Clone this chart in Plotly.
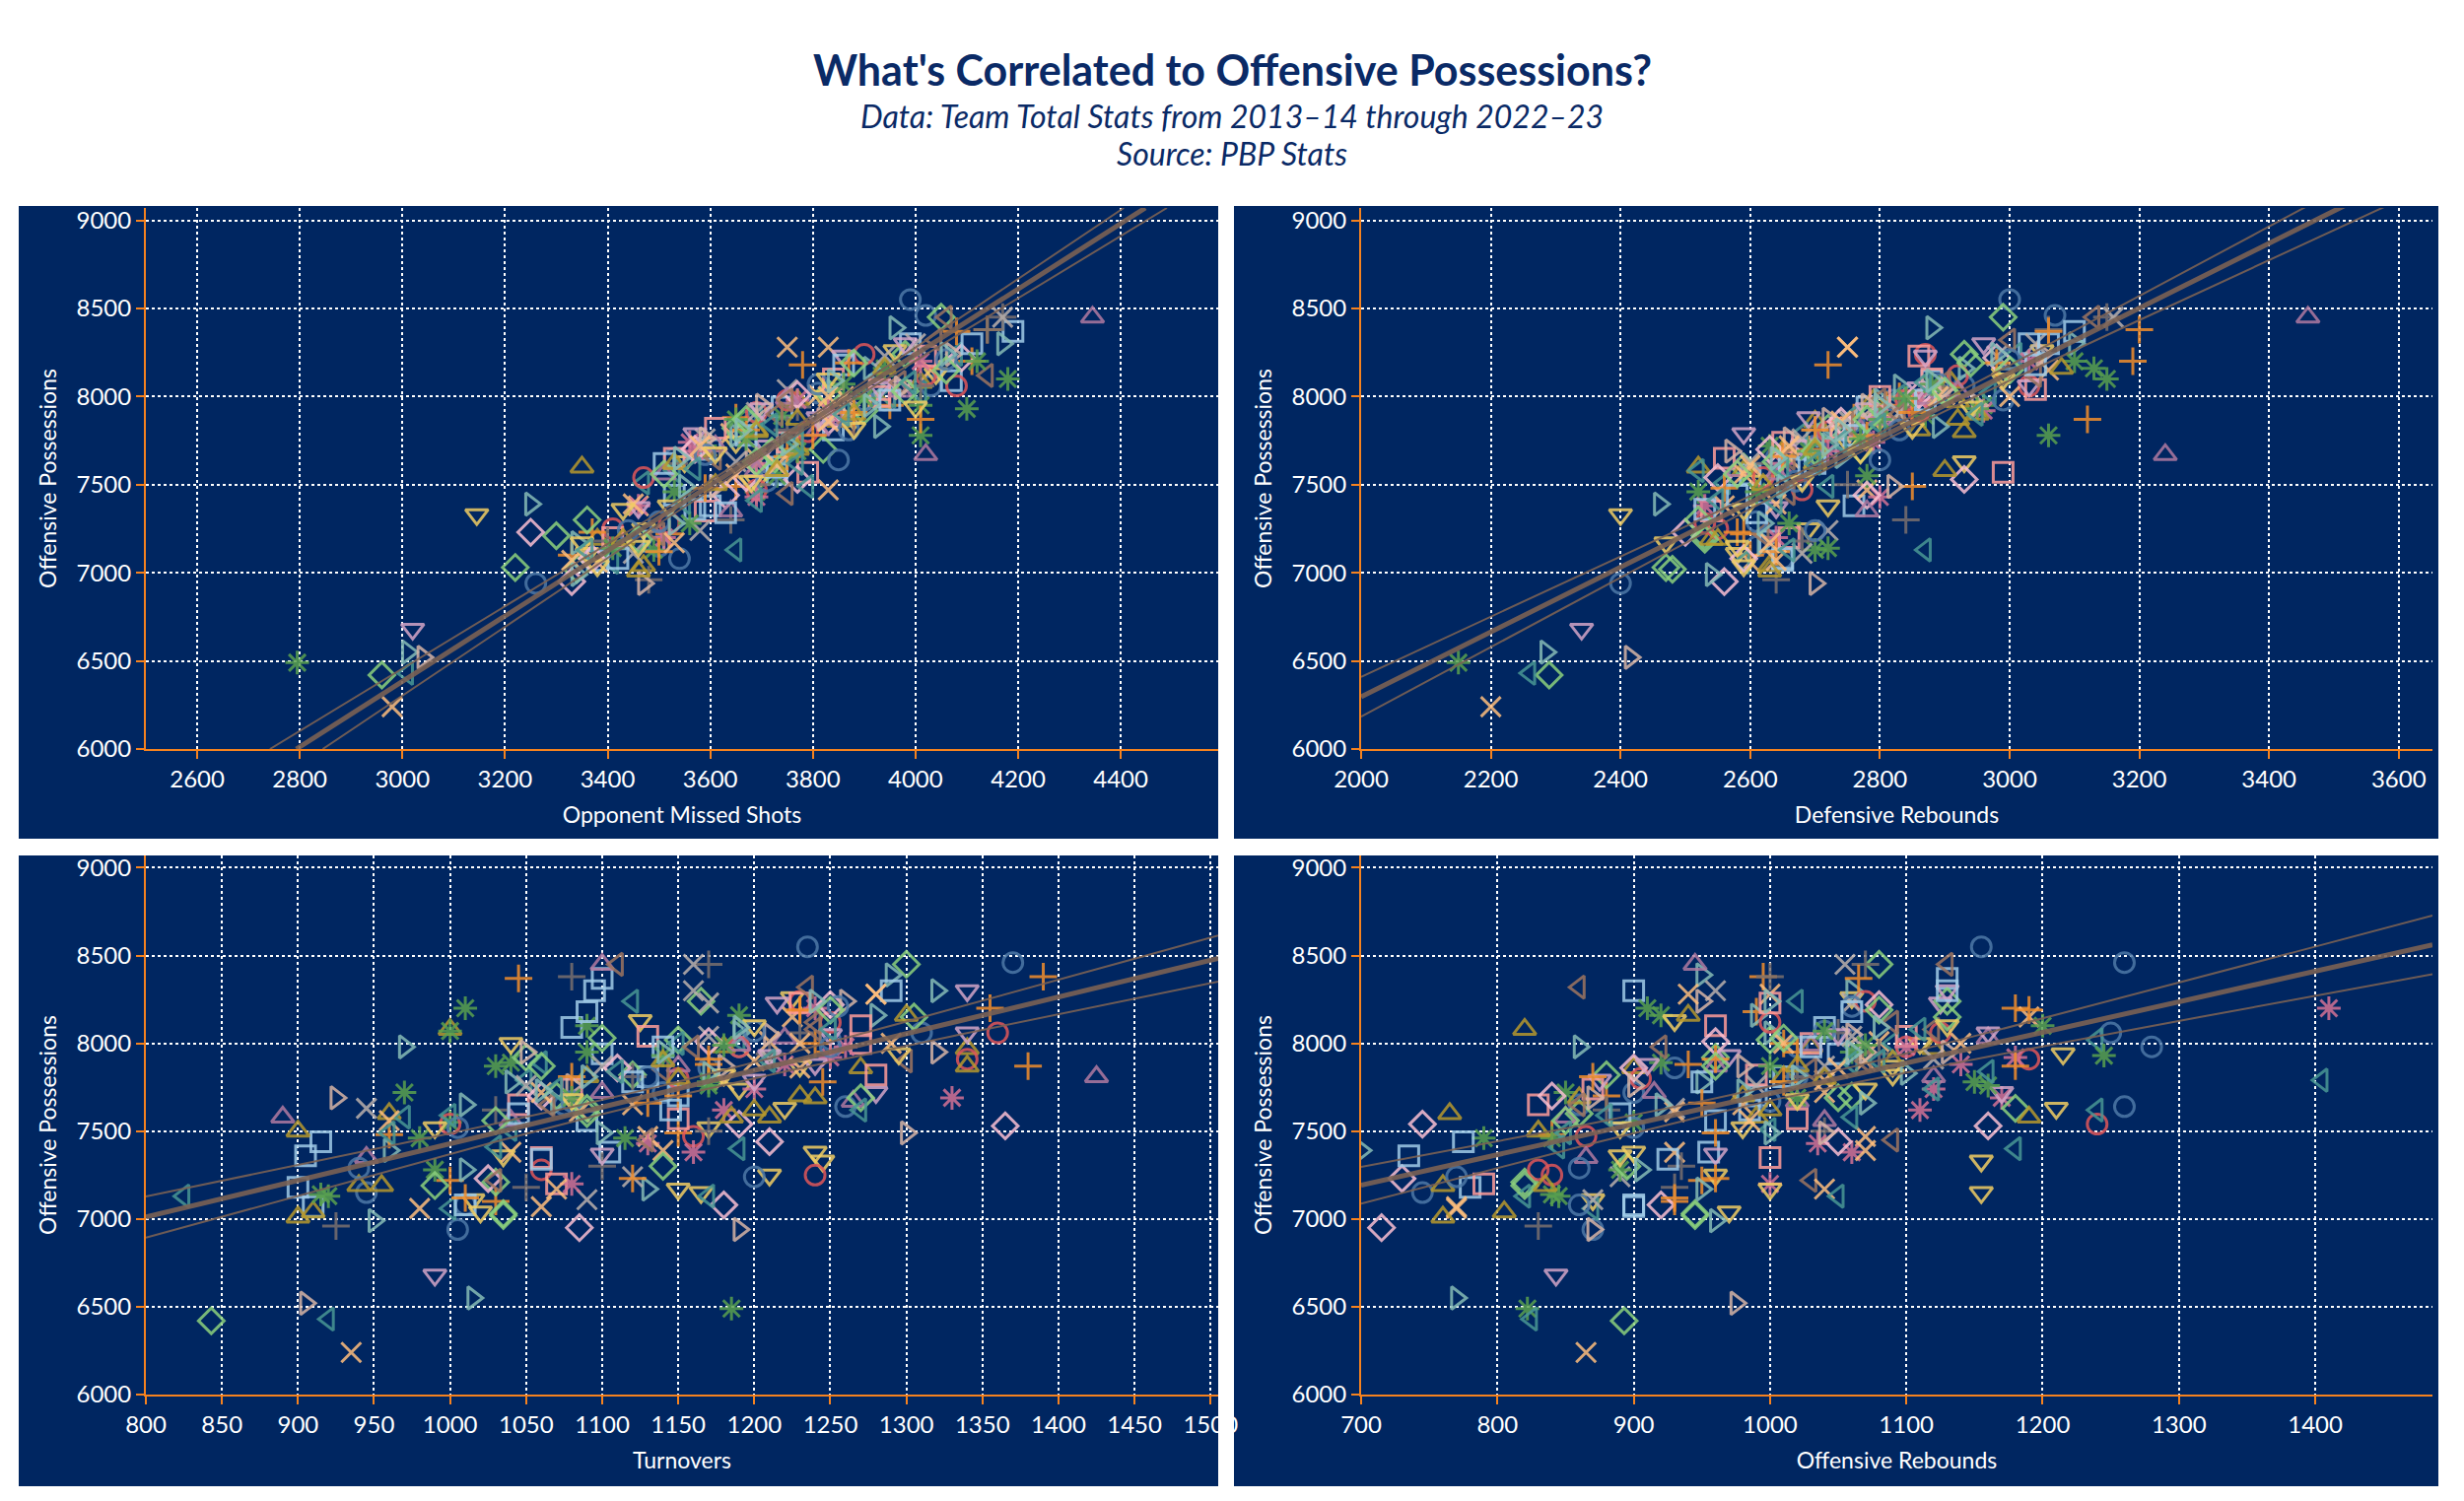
import numpy as np
import plotly.graph_objects as go
from plotly.subplots import make_subplots

# team totals per season, 2013-14 .. 2022-23
# one row = one team, ten seasons in order
teams = ['ATL', 'BOS', 'BKN', 'CHA', 'CHI', 'CLE', 'DAL', 'DEN', 'DET', 'GSW',
         'HOU', 'IND', 'LAC', 'LAL', 'MEM', 'MIA', 'MIL', 'MIN', 'NOP', 'NYK',
         'OKC', 'ORL', 'PHI', 'PHX', 'POR', 'SAC', 'SAS', 'TOR', 'UTA', 'WAS']

poss = [
    7650, 7720, 7860, 7980, 8020, 8550, 6940, 7150, 8060, 8460,
    7560, 7700, 7810, 7940, 8090, 8300, 7180, 7070, 7380, 8370,
    7700, 7880, 8000, 7950, 8180, 8380, 7100, 7220, 7490, 8200,
    7380, 7650, 7790, 7900, 8010, 8280, 6240, 7060, 7470, 8150,
    7460, 7720, 7550, 7890, 7950, 8160, 6490, 7130, 7780, 8100,
    7210, 7600, 7820, 7920, 8020, 8450, 6420, 7020, 7700, 8240,
    7600, 7580, 7690, 7860, 7980, 8080, 7040, 7190, 7810, 7970,
    7330, 7520, 7740, 7870, 8000, 8130, 7110, 7250, 7630, 8260,
    7130, 7580, 7790, 7890, 8000, 8240, 6430, 7060, 7510, 8020,
    7390, 7980, 7780, 8060, 8160, 8390, 6550, 7170, 7660, 8300,
    7250, 7540, 7800, 7980, 8120, 8240, 7280, 7470, 7910, 8060,
    7650, 7740, 7820, 8000, 8100, 8230, 7200, 7350, 7570, 8040,
    7300, 7620, 7810, 7940, 8060, 8380, 6960, 7180, 7500, 8450,
    7630, 7760, 7870, 8040, 8230, 8450, 7110, 7240, 7910, 8300,
    7380, 7620, 7740, 7880, 7980, 8200, 7200, 7430, 7690, 7920,
    7230, 7540, 7700, 7860, 8010, 8220, 6950, 7080, 7440, 7530,
    7580, 7720, 7870, 7990, 8450, 7670, 7350, 7560, 7810, 8030,
    7790, 7880, 7930, 8050, 8230, 8300, 6680, 7370, 7720, 8060,
    7650, 7850, 7980, 8080, 8320, 8450, 7220, 7450, 7900, 8120,
    7690, 7760, 7870, 7950, 8050, 8240, 6520, 6940, 7490, 7950,
    7290, 7520, 7670, 7810, 8070, 8210, 7080, 7240, 7640, 7980,
    7360, 7440, 7600, 7780, 7980, 8180, 7080, 7340, 7620, 8300,
    7480, 7660, 7810, 7910, 8190, 8370, 7120, 7230, 7780, 7870,
    7560, 7720, 7860, 8000, 8280, 7390, 7070, 7170, 7610, 8000,
    7460, 7690, 7870, 7990, 8070, 8200, 7140, 7280, 7760, 7930,
    7030, 7560, 7630, 7870, 8030, 8190, 7190, 7300, 7690, 8150,
    7500, 7620, 7700, 7800, 7900, 8160, 7010, 7190, 7580, 7870,
    7150, 7360, 7520, 7680, 7820, 8100, 7040, 7170, 7380, 7940,
    7410, 7590, 7740, 7840, 8080, 7490, 7130, 7400, 7620, 7900,
    7650, 7730, 7810, 7950, 8090, 8240, 6990, 7280, 7490, 7830,
]

opp_missed = [
    3530, 3750, 3670, 3940, 3810, 3990, 3260, 3500, 4030, 4020,
    3730, 3600, 3840, 3740, 4070, 3990, 3490, 3380, 3600, 4190,
    3770, 3650, 3910, 3950, 3780, 4140, 3330, 3520, 3650, 4110,
    3460, 3690, 3640, 3870, 3810, 3830, 2980, 3380, 3830, 4030,
    3690, 3590, 3730, 3740, 4010, 3940, 2795, 3490, 4010, 4180,
    3300, 3710, 3650, 3900, 3830, 4050, 2960, 3340, 3820, 3980,
    3350, 3730, 3590, 3850, 3770, 4010, 3470, 3380, 3690, 3930,
    3145, 3690, 3650, 3880, 3820, 4040, 3360, 3470, 3550, 3960,
    3650, 3530, 3770, 3690, 3950, 4080, 3010, 3410, 3470, 4010,
    3250, 3910, 3650, 3920, 3910, 3960, 3010, 3340, 3740, 4170,
    3410, 3470, 3790, 3750, 4020, 3900, 3520, 3690, 3690, 4080,
    3530, 3750, 3610, 3930, 3840, 4020, 3410, 3590, 3790, 3930,
    3640, 3530, 3750, 3770, 4010, 4140, 3480, 3400, 3690, 4170,
    3650, 3590, 3830, 3750, 3940, 4170, 3450, 3580, 3690, 4000,
    3460, 3690, 3560, 3840, 3770, 4010, 3510, 3690, 3570, 3830,
    3250, 3670, 3570, 3830, 3770, 4090, 3330, 3370, 3630, 3770,
    3690, 3610, 3850, 3750, 4345, 4020, 3640, 3510, 3810, 3970,
    3570, 3810, 3700, 3930, 3860, 3980, 3020, 3460, 3710, 3970,
    3610, 3870, 3750, 3970, 4040, 4060, 3500, 3750, 3730, 4140,
    3680, 3590, 3820, 3700, 3970, 4070, 3040, 3470, 3610, 3870,
    3500, 3710, 3590, 3870, 3810, 4060, 3540, 3440, 3850, 3900,
    3570, 3530, 3730, 3670, 3950, 3860, 3420, 3630, 3510, 4110,
    3590, 3750, 3670, 3880, 3870, 4080, 3500, 3370, 3800, 4010,
    3650, 3580, 3830, 3830, 3750, 3450, 3330, 3530, 3730, 3860,
    3530, 3770, 3650, 3900, 3860, 4120, 3410, 3560, 3670, 4100,
    3220, 3510, 3690, 3670, 3980, 3880, 3460, 3360, 3720, 4060,
    3610, 3530, 3770, 3690, 3880, 3940, 3460, 3430, 3730, 3770,
    3460, 3430, 3680, 3610, 3880, 3830, 3380, 3350, 3520, 4000,
    3690, 3570, 3770, 3720, 3990, 3790, 3360, 3550, 3770, 3860,
    3540, 3750, 3660, 3910, 3840, 4060, 3340, 3530, 3550, 3930,
]

dreb = [
    2640, 2700, 2760, 2820, 2890, 3000, 2400, 2610, 2930, 3070,
    2600, 2680, 2740, 2780, 2880, 3030, 2630, 2650, 2760, 3100,
    2690, 2760, 2830, 2810, 2720, 3200, 2600, 2590, 2850, 3190,
    2560, 2660, 2740, 2830, 2900, 2750, 2200, 2600, 2780, 3060,
    2520, 2630, 2780, 2870, 2960, 3130, 2150, 2700, 3060, 3150,
    2530, 2590, 2720, 2790, 2900, 2990, 2290, 2480, 2770, 2930,
    2520, 2590, 2650, 2700, 2790, 2910, 2630, 2540, 2860, 2920,
    2400, 2620, 2750, 2800, 2870, 2990, 2580, 2690, 2930, 3050,
    2870, 2520, 2680, 2760, 2830, 3010, 2260, 2590, 2560, 2970,
    2460, 2800, 2710, 2830, 2930, 2880, 2285, 2620, 2740, 3100,
    2550, 2620, 2720, 2840, 2920, 2870, 2530, 2680, 2860, 3030,
    2560, 2650, 2740, 2800, 2880, 2860, 2660, 2540, 2990, 3040,
    2840, 2630, 2700, 2830, 2880, 3060, 2640, 2680, 2750, 3150,
    2600, 2680, 2750, 2880, 2980, 3160, 2680, 2720, 2830, 3040,
    2530, 2650, 2790, 2800, 2860, 3030, 2640, 2800, 2720, 2960,
    2500, 2550, 2630, 2740, 2860, 2980, 2560, 2590, 2780, 2930,
    2580, 2700, 2800, 2870, 3460, 3240, 2780, 2640, 2770, 2920,
    2590, 2690, 2780, 2860, 2870, 2960, 2340, 2640, 2680, 3030,
    2660, 2750, 2800, 2900, 3000, 3130, 2620, 2660, 2830, 3040,
    2570, 2660, 2720, 2780, 2900, 3050, 2415, 2700, 2820, 2950,
    2610, 2670, 2700, 2830, 2890, 3000, 2650, 2700, 2800, 2990,
    2530, 2580, 2660, 2760, 2870, 3040, 2650, 2610, 2700, 3060,
    2560, 2650, 2700, 2850, 2980, 3060, 2640, 2580, 2780, 3120,
    2590, 2660, 2740, 2890, 2750, 2640, 2640, 2630, 2600, 3000,
    2610, 2690, 2800, 2840, 2880, 3100, 2720, 2660, 2770, 2950,
    2470, 2580, 2640, 2780, 2900, 2940, 2530, 2520, 2700, 3000,
    2620, 2700, 2700, 2930, 2950, 3080, 2630, 2550, 2900, 2920,
    2580, 2590, 2680, 2770, 2850, 2990, 2590, 2470, 2720, 2940,
    2550, 2650, 2740, 2800, 2870, 2720, 2660, 2640, 2700, 2950,
    2640, 2720, 2740, 2800, 2880, 2980, 2540, 2620, 2650, 2890,
]

tov = [
    1075, 1140, 1170, 1190, 1250, 1235, 1005, 945, 1310, 1370,
    1090, 1150, 1130, 1100, 1080, 1095, 900, 910, 1105, 1100,
    1150, 1170, 1240, 1250, 1230, 1390, 1030, 1000, 1150, 1355,
    1040, 1120, 1180, 1200, 1210, 1280, 935, 980, 1130, 1225,
    980, 970, 1000, 1040, 1090, 1190, 1185, 920, 1170, 1090,
    1030, 1090, 1120, 1050, 1150, 1300, 843, 1035, 1070, 1165,
    960, 1210, 1240, 1270, 1180, 1000, 910, 940, 1090, 1340,
    1245, 1170, 1190, 1230, 1040, 1125, 1015, 1210, 1220, 1225,
    825, 970, 1050, 1060, 1150, 1120, 920, 1000, 1040, 1190,
    960, 970, 1040, 1190, 1280, 1290, 1015, 1130, 1070, 1320,
    1240, 1000, 1150, 1190, 1250, 1230, 1060, 1160, 1340, 1360,
    1045, 1080, 1280, 1270, 1270, 1230, 1070, 1060, 1150, 1130,
    1100, 1030, 1120, 1210, 1230, 1080, 925, 1050, 1170, 1170,
    945, 1050, 1100, 1170, 1170, 1160, 1090, 1120, 1210, 1160,
    1160, 1180, 1200, 1220, 1260, 1240, 1080, 1130, 1330, 1250,
    1025, 1190, 1060, 1110, 1170, 1250, 1085, 1180, 1210, 1365,
    890, 1100, 1150, 1190, 1100, 1265, 945, 1040, 1425, 1220,
    1200, 1240, 1210, 1250, 1215, 1340, 990, 1100, 1280, 1340,
    1065, 1140, 1160, 1240, 1235, 1110, 1030, 1130, 1300, 1240,
    925, 1080, 1180, 1050, 1210, 1260, 905, 1190, 1300, 1320,
    940, 1005, 1080, 1130, 1200, 1255, 1010, 1200, 1260, 1250,
    905, 915, 1045, 1120, 1140, 1090, 1010, 1060, 1145, 1290,
    960, 1130, 1080, 1170, 1230, 1045, 1010, 1120, 1245, 1380,
    960, 1060, 1230, 1230, 1280, 1140, 1060, 1070, 1085, 1290,
    1115, 1080, 1030, 1180, 1000, 1010, 915, 990, 1170, 1140,
    1035, 1030, 1090, 1060, 1100, 1250, 990, 1140, 1270, 1305,
    900, 1200, 1230, 1150, 1140, 1300, 900, 955, 1185, 1340,
    1165, 1035, 990, 1080, 1180, 1200, 1020, 1150, 1240, 1295,
    1030, 1000, 1070, 1110, 1250, 960, 1170, 1190, 1270, 1210,
    1010, 1060, 1090, 1140, 1190, 1240, 950, 1010, 1100, 1170,
]

oreb = [
    860, 900, 930, 1020, 1060, 1155, 870, 745, 1250, 1260,
    960, 990, 1010, 1050, 1040, 900, 780, 900, 955, 1130,
    880, 940, 1010, 1020, 990, 995, 930, 950, 960, 1180,
    930, 980, 1040, 1070, 1080, 1000, 865, 770, 1070, 1190,
    790, 850, 900, 920, 1060, 920, 822, 845, 1150, 1200,
    820, 860, 880, 960, 1000, 1080, 893, 945, 1060, 1130,
    765, 990, 860, 900, 1030, 820, 805, 760, 1010, 1120,
    1155, 980, 1070, 1090, 1110, 930, 870, 960, 1210, 1060,
    820, 1060, 1405, 1060, 1090, 1020, 825, 870, 1000, 1240,
    700, 860, 950, 1000, 990, 950, 770, 950, 1070, 1060,
    840, 1240, 905, 1100, 1000, 1070, 830, 865, 1190, 1125,
    830, 870, 990, 1030, 960, 1000, 790, 1000, 1020, 1100,
    935, 880, 1020, 1080, 1050, 1000, 830, 930, 1040, 1070,
    930, 990, 1040, 1060, 1060, 1055, 870, 890, 1120, 960,
    1060, 1110, 1120, 1140, 1100, 1410, 1000, 1035, 1170, 1180,
    730, 745, 840, 900, 960, 1080, 715, 920, 1050, 1160,
    850, 915, 960, 1030, 945, 1020, 865, 1040, 1120, 1160,
    875, 910, 970, 1050, 1125, 1130, 843, 960, 1170, 1160,
    860, 1030, 920, 1120, 860, 1130, 1030, 1090, 1070, 1090,
    870, 900, 980, 1070, 1060, 950, 975, 870, 1040, 1130,
    860, 900, 1000, 1020, 1040, 1060, 860, 770, 1260, 1280,
    735, 775, 890, 950, 1030, 1060, 900, 925, 985, 1130,
    840, 950, 870, 960, 1190, 1065, 930, 960, 1010, 1180,
    985, 1040, 1050, 1010, 940, 1070, 770, 1040, 930, 1140,
    840, 1020, 1000, 1070, 1040, 910, 840, 890, 1160, 1245,
    945, 850, 1180, 960, 1010, 1080, 820, 895, 1050, 1130,
    830, 1000, 980, 1040, 1090, 940, 760, 835, 1190, 1020,
    1155, 890, 890, 1020, 1090, 1130, 970, 1000, 900, 1215,
    845, 880, 1120, 1160, 1110, 850, 1050, 1180, 1240, 1080,
    920, 980, 1020, 1060, 1080, 1000, 960, 905, 1000, 1100,
]

# marker style per team: symbol cycles every 10 teams, colour every 20
symbols = ['circle-open', 'square-open', 'cross-thin-open', 'x-thin-open', 'asterisk-open',
           'diamond-open', 'triangle-up-open', 'triangle-down-open', 'triangle-left-open',
           'triangle-right-open']
tab20 = ['#4e79a7', '#a0cbe8', '#f28e2b', '#ffbe7d', '#59a14f', '#8cd17d', '#b6992d', '#f1ce63',
         '#499894', '#86bcb6', '#e15759', '#ff9d9a', '#79706e', '#bab0ac', '#d37295', '#fabfd2',
         '#b07aa1', '#d4a6c8', '#9d7660', '#d7b5a6']

NAVY = '#002661'
ORANGE = '#f5821f'
TITLE = '#0a2a66'
FONT = 'Lato'
TREND = 'rgba(122,98,84,0.9)'

# x column, axis title, axis range, tick step, fit x on y (True) or y on x
panels = [
    (opp_missed, 'Opponent Missed Shots', [2500, 4590], 200, True),
    (dreb, 'Defensive Rebounds', [2000, 3652], 200, False),
    (tov, 'Turnovers', [800, 1505], 50, False),
    (oreb, 'Offensive Rebounds', [700, 1486], 100, False),
]
YR = [6000, 9070]

fig = make_subplots(rows=2, cols=2)

y = np.array(poss, dtype=float)
n = len(y)
for k, (xs, name, xr, dt, inverse) in enumerate(panels):
    row, col = k // 2 + 1, k % 2 + 1
    for i, team in enumerate(teams):
        fig.add_trace(go.Scatter(
            x=xs[i * 10:(i + 1) * 10], y=poss[i * 10:(i + 1) * 10], mode='markers', name=team,
            marker=dict(symbol=symbols[i % 10], color=tab20[i % 20], size=20, opacity=0.85,
                        line=dict(width=3, color=tab20[i % 20])),
            showlegend=False, hoverinfo='x+y+name'), row=row, col=col)

    # least squares fit with 95% band for the mean
    x = np.array(xs, dtype=float)
    u, v, g = (y, x, np.linspace(YR[0], YR[1], 200)) if inverse else (x, y, np.linspace(xr[0], xr[1], 200))
    b, a = np.polyfit(u, v, 1)
    s = np.sqrt(np.sum((v - (a + b * u)) ** 2) / (n - 2))
    suu = np.sum((u - u.mean()) ** 2)
    fit = a + b * g
    band = 1.968 * s * np.sqrt(1 / n + (g - u.mean()) ** 2 / suu)
    for ff, w in [(fit + band, 2), (fit - band, 2), (fit, 5)]:
        lx, ly = (ff, g) if inverse else (g, ff)
        fig.add_trace(go.Scatter(x=lx, y=ly, mode='lines', line=dict(color=TREND, width=w),
                                 showlegend=False, hoverinfo='skip'), row=row, col=col)

    fig.update_xaxes(range=xr, dtick=dt, title=dict(text=name, standoff=16, font=dict(size=23, color='white')),
                     row=row, col=col)
    fig.update_yaxes(range=YR, dtick=500,
                     title=dict(text='Offensive Possessions', standoff=13, font=dict(size=23, color='white')),
                     row=row, col=col)

axis_style = dict(showline=True, linecolor=ORANGE, linewidth=2, ticks='outside', tickcolor=ORANGE,
                  ticklen=8, tickwidth=2, showgrid=True, gridcolor='white', gridwidth=1.6, griddash='dot',
                  zeroline=False, automargin=False, tickfont=dict(size=24, color='white', family=FONT))
fig.update_xaxes(**axis_style)
fig.update_yaxes(**axis_style)

W, H = 2500, 1523
# plot areas in pixels: left/right columns, top/bottom rows
fig.update_layout(
    xaxis=dict(domain=[148 / W, 1236 / W]), xaxis2=dict(domain=[1381 / W, 2468 / W]),
    xaxis3=dict(domain=[148 / W, 1236 / W]), xaxis4=dict(domain=[1381 / W, 2468 / W]),
    yaxis=dict(domain=[1 - 760 / H, 1 - 211 / H]), yaxis2=dict(domain=[1 - 760 / H, 1 - 211 / H]),
    yaxis3=dict(domain=[1 - 1415 / H, 1 - 868 / H]), yaxis4=dict(domain=[1 - 1415 / H, 1 - 868 / H]),
)

# dark panels behind each chart
shapes = []
for x0, x1 in [(19, 1236), (1252, 2474)]:
    for y0, y1 in [(209, 851), (868, 1508)]:
        shapes.append(dict(type='rect', xref='paper', yref='paper', x0=x0 / W, x1=x1 / W,
                           y0=1 - y1 / H, y1=1 - y0 / H, fillcolor=NAVY, line=dict(width=0), layer='below'))

annotations = [
    dict(text="<b>What's Correlated to Offensive Possessions?</b>", x=0.5, y=1 - 70 / H,
         font=dict(size=43, color=TITLE, family=FONT)),
    dict(text='<i>Data: Team Total Stats from 2013\u201314 through 2022\u201323</i>', x=0.5, y=1 - 118 / H,
         font=dict(size=32, color=TITLE, family=FONT)),
    dict(text='<i>Source: PBP Stats</i>', x=0.5, y=1 - 155 / H,
         font=dict(size=32, color=TITLE, family=FONT)),
]
for an in annotations:
    an.update(xref='paper', yref='paper', showarrow=False, xanchor='center', yanchor='middle')

fig.update_layout(
    width=W, height=H, margin=dict(l=0, r=0, t=0, b=0, autoexpand=False),
    paper_bgcolor='white', plot_bgcolor=NAVY,
    font=dict(family=FONT, color='white'),
    shapes=shapes, annotations=annotations,
)

# page margin off so the figure sits exactly in the window
fig.write_html("out.html", config={'displayModeBar': False},
               post_script="document.body.style.margin='0';")
